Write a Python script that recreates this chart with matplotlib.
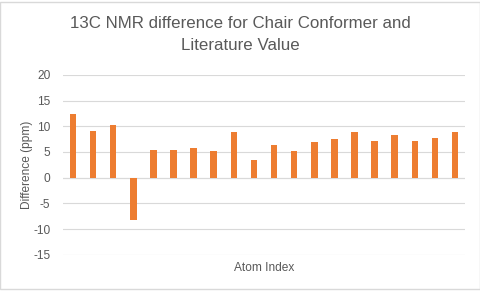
import matplotlib
matplotlib.use("Agg")
import matplotlib.pyplot as plt
from matplotlib.patches import Rectangle

atoms = list(range(1, 21))
diffs = [12.4, 9.1, 10.3, -8.2, 5.3, 5.3, 5.8, 5.1, 8.8, 3.5,
         6.4, 5.1, 7.0, 7.6, 8.8, 7.2, 8.3, 7.2, 7.8, 8.8]
yticks = [-15, -10, -5, 0, 5, 10, 15, 20]

txt = "#595959"
grid = "#d9d9d9"
fam = ["Liberation Sans", "DejaVu Sans"]

fig = plt.figure(figsize=(4.8, 2.91), dpi=100)
ax = fig.add_axes([0.131, 0.124, 0.838, 0.619])

ax.bar(atoms, diffs, width=0.33, color="#ED7D31", zorder=3)
ax.set_xlim(0.5, 20.5)
ax.set_ylim(-15, 20)
ax.set_yticks(yticks)
ax.set_yticklabels([str(v) for v in yticks], fontsize=8.6, color=txt, family=fam)
ax.set_xticks([])
ax.yaxis.grid(True, color=grid, linewidth=0.8, zorder=0)
ax.tick_params(axis="y", length=0, pad=9)
for s in ax.spines.values():
    s.set_visible(False)
ax.axhline(0, color=grid, linewidth=0.8, zorder=2)

ax.set_ylabel("Difference (ppm)", fontsize=8.6, color=txt, family=fam, labelpad=0)
ax.set_xlabel("Atom Index", fontsize=8.6, color=txt, family=fam, labelpad=5)

fig.text(0.5, 1 - 23 / 291, "13C NMR difference for Chair Conformer and",
         ha="center", va="center", fontsize=12.2, color=txt, family=fam)
fig.text(0.5, 1 - 46 / 291, "Literature Value",
         ha="center", va="center", fontsize=12.2, color=txt, family=fam)

fig.patches.append(Rectangle((0.001, 0.006), 0.998, 0.988, transform=fig.transFigure,
                             fill=False, edgecolor="#d9d9d9", linewidth=1.0))

fig.savefig("out.png", dpi=100)
